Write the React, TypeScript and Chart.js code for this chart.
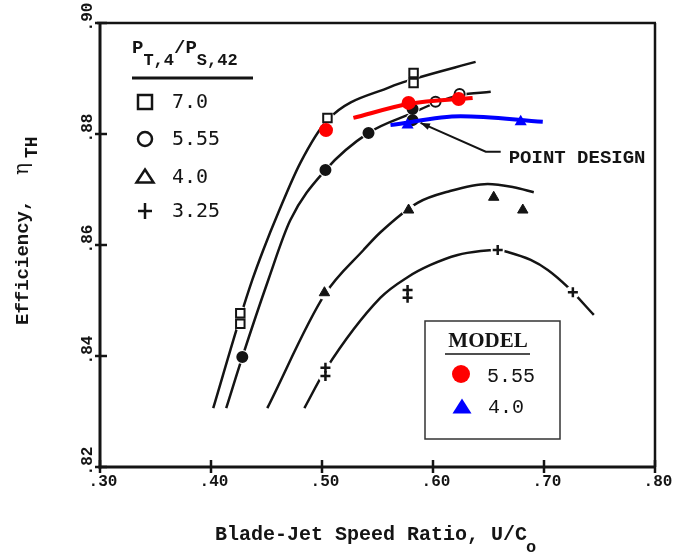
import React, { useEffect, useRef } from "react";
import { Chart, registerables } from "chart.js";
Chart.register(...registerables);

// ---- axis ticks ----
const xTicks = [0.3, 0.4, 0.5, 0.6, 0.7, 0.8];
const xTickLabels = [".30", ".40", ".50", ".60", ".70", ".80"];
const yTicks = [0.82, 0.84, 0.86, 0.88, 0.9];
const yTickLabels = [".82", ".84", ".86", ".88", ".90"];

// ---- faired test curves (P_T,4/P_S,42) ----
const curve70X = [0.402, 0.4264, 0.4372, 0.4471, 0.4606, 0.4805, 0.5049, 0.5617, 0.5825, 0.6384];
const curve70Y = [0.8306, 0.847, 0.8537, 0.8591, 0.8658, 0.8748, 0.8825, 0.8885, 0.8899, 0.893];
const curve555X = [0.4137, 0.4282, 0.4516, 0.4715, 0.5031, 0.5419, 0.5816, 0.6023, 0.624, 0.652];
const curve555Y = [0.8306, 0.8398, 0.8537, 0.8645, 0.8735, 0.8802, 0.8838, 0.8856, 0.887, 0.8876];
const curve40X = [0.4507, 0.5022, 0.5374, 0.5527, 0.5861, 0.6132, 0.6493, 0.6727, 0.6908];
const curve40Y = [0.8306, 0.851, 0.8591, 0.8623, 0.8676, 0.8696, 0.871, 0.8704, 0.8695];
const curve325X = [0.4841, 0.5031, 0.5527, 0.5771, 0.5978, 0.6222, 0.643, 0.6583, 0.668, 0.688, 0.7034, 0.7215, 0.7449];
const curve325Y = [0.8306, 0.8375, 0.8505, 0.8542, 0.8564, 0.8582, 0.8589, 0.8591, 0.8587, 0.8573, 0.8555, 0.8524, 0.8474];

// ---- test data points ----
const sq70X = [0.4264, 0.4264, 0.5049, 0.5825, 0.5825];
const sq70Y = [0.8477, 0.8458, 0.8829, 0.891, 0.8892];
const circ555X = [0.4282, 0.5031, 0.5419, 0.5816, 0.5816, 0.6023, 0.624];
const circ555Y = [0.8398, 0.8735, 0.8802, 0.8845, 0.8825, 0.8858, 0.8872];
const tri40X = [0.5022, 0.578, 0.6547, 0.6809];
const tri40Y = [0.8514, 0.8663, 0.8686, 0.8663];
const plus325X = [0.5031, 0.5031, 0.5771, 0.5771, 0.6583, 0.726];
const plus325Y = [0.8379, 0.8364, 0.8519, 0.8505, 0.8591, 0.8515];

// ---- model results ----
const model555X = [0.5036, 0.578, 0.6231];
const model555Y = [0.8807, 0.8856, 0.8863];
const model555LineX = [0.5283, 0.578, 0.6357];
const model555LineY = [0.8829, 0.8854, 0.8865];
const model40X = [0.5771, 0.679];
const model40Y = [0.8816, 0.8822];
const model40LineX = [0.5617, 0.6249, 0.6989];
const model40LineY = [0.8816, 0.8832, 0.8822];

// ---- annotation ----
const designArrowX = [0.661, 0.6475, 0.5888];
const designArrowY = [0.8768, 0.8768, 0.882];
const designTextX = 0.6682;
const designTextY = 0.8748;

const pts = (xs: number[], ys: number[]) => xs.map((x, i) => ({ x, y: ys[i] }));

const INK = "#141414";

function tri(ctx: CanvasRenderingContext2D, cx: number, cy: number, w: number, h: number) {
  ctx.beginPath();
  ctx.moveTo(cx, cy - h / 2);
  ctx.lineTo(cx + w / 2, cy + h / 2);
  ctx.lineTo(cx - w / 2, cy + h / 2);
  ctx.closePath();
}

const decor = {
  id: "decor",
  afterDatasetsDraw(chart: any) {
    const { ctx, chartArea: a, scales } = chart;
    const xs = scales.x;
    const ys = scales.y;
    const line = (x1: number, y1: number, x2: number, y2: number) => {
      ctx.beginPath();
      ctx.moveTo(x1, y1);
      ctx.lineTo(x2, y2);
      ctx.stroke();
    };
    ctx.save();
    ctx.strokeStyle = INK;
    ctx.fillStyle = INK;
    ctx.lineCap = "butt";

    // frame
    ctx.lineWidth = 3;
    line(a.left, a.top - 1, a.left, a.bottom + 1.5);
    line(a.left - 1.5, a.bottom, a.right + 1, a.bottom);
    ctx.lineWidth = 2.5;
    line(a.left - 3, a.top, a.right + 1, a.top);
    line(a.right, a.top, a.right, a.bottom);

    // tick marks
    ctx.lineWidth = 2.5;
    yTicks.forEach((v) => {
      const py = ys.getPixelForValue(v);
      line(a.left - 5, py, a.left + 7, py);
    });
    xTicks.forEach((v) => {
      const px = xs.getPixelForValue(v);
      line(px, a.bottom - 7, px, a.bottom + 6);
    });

    // tick labels
    ctx.font = 'bold 16px "Liberation Mono"';
    ctx.textAlign = "center";
    ctx.textBaseline = "middle";
    xTicks.forEach((v, i) => {
      ctx.fillText(xTickLabels[i], xs.getPixelForValue(v) + 3, a.bottom + 15);
    });
    yTicks.forEach((v, i) => {
      ctx.save();
      ctx.translate(a.left - 12, ys.getPixelForValue(v) - 6);
      ctx.rotate(-Math.PI / 2);
      ctx.fillText(yTickLabels[i], 0, 0);
      ctx.restore();
    });

    // x title
    ctx.textAlign = "left";
    ctx.textBaseline = "alphabetic";
    ctx.font = 'bold 20px "Liberation Mono"';
    const xt = "Blade-Jet Speed Ratio, U/C";
    const xtx = a.left + 115;
    ctx.fillText(xt, xtx, a.bottom + 73);
    const xtw = ctx.measureText(xt).width;
    ctx.font = 'bold 17px "Liberation Mono"';
    ctx.fillText("o", xtx + xtw - 1, a.bottom + 85);

    // y title
    ctx.save();
    ctx.translate(a.left - 72, a.bottom - 142);
    ctx.rotate(-Math.PI / 2);
    ctx.font = 'bold 19px "Liberation Mono"';
    ctx.fillText("Efficiency,", 0, 0);
    ctx.font = '20px "DejaVu Serif"';
    ctx.fillText("\u03b7", 150, 0);
    ctx.font = 'bold 18px "Liberation Mono"';
    ctx.fillText("TH", 167, 9);
    ctx.restore();

    // test legend (top-left)
    const lx = a.left;
    const ly = a.top;
    ctx.font = 'bold 19px "Liberation Mono"';
    let cx = lx + 32;
    ctx.fillText("P", cx, ly + 30);
    cx += ctx.measureText("P").width;
    ctx.font = 'bold 17px "Liberation Mono"';
    ctx.fillText("T,4", cx, ly + 42);
    cx += ctx.measureText("T,4").width;
    ctx.font = 'bold 19px "Liberation Mono"';
    ctx.fillText("/P", cx, ly + 30);
    cx += ctx.measureText("/P").width;
    ctx.font = 'bold 17px "Liberation Mono"';
    ctx.fillText("S,42", cx, ly + 42);
    ctx.lineWidth = 3;
    line(lx + 32, ly + 55, lx + 153, ly + 55);

    const mx = lx + 45;
    const rows = [ly + 79, ly + 116, ly + 154, ly + 188];
    const labels = ["7.0", "5.55", "4.0", "3.25"];
    ctx.lineWidth = 2.5;
    ctx.strokeRect(mx - 7, rows[0] - 7, 14, 14);
    ctx.beginPath();
    ctx.arc(mx, rows[1], 7, 0, Math.PI * 2);
    ctx.stroke();
    tri(ctx, mx, rows[2] - 1, 17, 13);
    ctx.stroke();
    line(mx - 7, rows[3], mx + 7, rows[3]);
    line(mx, rows[3] - 8, mx, rows[3] + 8);
    ctx.font = '20px "DejaVu Sans Mono"';
    ctx.textBaseline = "middle";
    labels.forEach((t, i) => ctx.fillText(t, lx + 72, rows[i] + 1));

    // POINT DESIGN annotation
    ctx.lineWidth = 2;
    ctx.beginPath();
    designArrowX.forEach((v, i) => {
      const px = xs.getPixelForValue(v);
      const py = ys.getPixelForValue(designArrowY[i]);
      if (i === 0) ctx.moveTo(px, py);
      else ctx.lineTo(px, py);
    });
    ctx.stroke();
    {
      const x1 = xs.getPixelForValue(designArrowX[1]);
      const y1 = ys.getPixelForValue(designArrowY[1]);
      const x2 = xs.getPixelForValue(designArrowX[2]);
      const y2 = ys.getPixelForValue(designArrowY[2]);
      const ang = Math.atan2(y2 - y1, x2 - x1);
      ctx.beginPath();
      ctx.moveTo(x2, y2);
      ctx.lineTo(x2 - 10 * Math.cos(ang - 0.35), y2 - 10 * Math.sin(ang - 0.35));
      ctx.lineTo(x2 - 10 * Math.cos(ang + 0.35), y2 - 10 * Math.sin(ang + 0.35));
      ctx.closePath();
      ctx.fill();
    }
    ctx.font = 'bold 19px "Liberation Mono"';
    ctx.textBaseline = "alphabetic";
    ctx.fillText("POINT DESIGN", xs.getPixelForValue(designTextX), ys.getPixelForValue(designTextY));

    // MODEL legend box
    const bx = a.left + 325;
    const by = a.top + 298;
    ctx.fillStyle = "#fff";
    ctx.fillRect(bx, by, 135, 118);
    ctx.strokeStyle = "#333";
    ctx.lineWidth = 1.5;
    ctx.strokeRect(bx, by, 135, 118);
    ctx.fillStyle = INK;
    ctx.strokeStyle = INK;
    ctx.font = 'bold 21px "Liberation Serif"';
    ctx.textAlign = "center";
    ctx.fillText("MODEL", bx + 63, by + 26);
    ctx.lineWidth = 1.5;
    line(bx + 20, by + 33, bx + 105, by + 33);
    ctx.fillStyle = "#ff0000";
    ctx.beginPath();
    ctx.arc(bx + 36, by + 53, 9, 0, Math.PI * 2);
    ctx.fill();
    ctx.fillStyle = "#0000ff";
    tri(ctx, bx + 37, by + 85, 19, 15);
    ctx.fill();
    ctx.fillStyle = INK;
    ctx.textAlign = "left";
    ctx.font = '20px "Liberation Mono"';
    ctx.fillText("5.55", bx + 62, by + 61);
    ctx.fillText("4.0", bx + 63, by + 92);

    ctx.restore();
  },
};

export default function App() {
  const ref = useRef<HTMLCanvasElement | null>(null);
  useEffect(() => {
    if (!ref.current) return;
    const curve = (xs: number[], ys: number[]) => ({
      data: pts(xs, ys),
      showLine: true,
      borderColor: INK,
      borderWidth: 2.5,
      pointRadius: 0,
      cubicInterpolationMode: "monotone" as const,
      order: 5,
    });
    const halo = (xs: number[], ys: number[]) => ({
      data: pts(xs, ys),
      showLine: false,
      pointRadius: 7,
      pointBackgroundColor: "#fff",
      pointBorderWidth: 0,
      pointBorderColor: "#fff",
      order: 4,
    });
    const chart = new Chart(ref.current, {
      type: "scatter",
      data: {
        datasets: [
          curve(curve70X, curve70Y),
          curve(curve555X, curve555Y),
          curve(curve40X, curve40Y),
          curve(curve325X, curve325Y),
          halo(sq70X, sq70Y),
          halo(circ555X, circ555Y),
          halo(tri40X, tri40Y),
          halo(plus325X, plus325Y),
          {
            data: pts(sq70X, sq70Y),
            pointStyle: "rect",
            pointRadius: 6,
            pointBackgroundColor: "#fff",
            pointBorderColor: INK,
            pointBorderWidth: 2,
            order: 3,
          },
          {
            data: pts(circ555X, circ555Y),
            pointStyle: "circle",
            pointRadius: 5,
            pointBackgroundColor: (c: any) => (c.raw && c.raw.x > 0.59 ? "#fff" : INK),
            pointBorderColor: INK,
            pointBorderWidth: 2,
            order: 3,
          },
          {
            data: pts(tri40X, tri40Y),
            pointStyle: "triangle",
            pointRadius: 6,
            pointBackgroundColor: INK,
            pointBorderColor: INK,
            pointBorderWidth: 1,
            order: 3,
          },
          {
            data: pts(plus325X, plus325Y),
            pointStyle: "cross",
            pointRadius: 5,
            pointBorderColor: INK,
            pointBorderWidth: 2.5,
            order: 3,
          },
          {
            data: pts(model555LineX, model555LineY),
            showLine: true,
            borderColor: "#ff0000",
            borderWidth: 4,
            pointRadius: 0,
            cubicInterpolationMode: "monotone" as const,
            order: 2,
          },
          {
            data: pts(model40LineX, model40LineY),
            showLine: true,
            borderColor: "#0000ff",
            borderWidth: 4,
            pointRadius: 0,
            cubicInterpolationMode: "monotone" as const,
            order: 2,
          },
          {
            data: pts(model555X, model555Y),
            pointStyle: "circle",
            pointRadius: 7,
            pointBackgroundColor: "#ff0000",
            pointBorderColor: "#ff0000",
            pointBorderWidth: 0,
            order: 1,
          },
          {
            data: pts(model40X, model40Y),
            pointStyle: "triangle",
            pointRadius: 7,
            pointBackgroundColor: "#0000ff",
            pointBorderColor: "#0000ff",
            pointBorderWidth: 0,
            order: 1,
          },
        ] as any,
      },
      options: {
        responsive: false,
        animation: false,
        layout: { padding: { left: 100, right: 23, top: 23, bottom: 87 } },
        plugins: { legend: { display: false }, tooltip: { enabled: false } },
        scales: {
          x: { type: "linear", min: 0.3, max: 0.8, display: false },
          y: { type: "linear", min: 0.82, max: 0.9, display: false },
        },
      },
      plugins: [decor],
    });
    return () => chart.destroy();
  }, []);
  return (
    <div style={{ position: "fixed", left: 0, top: 0, width: 678, height: 554, background: "#fff" }}>
      <canvas ref={ref} width={678} height={554} style={{ display: "block" }} />
    </div>
  );
}
